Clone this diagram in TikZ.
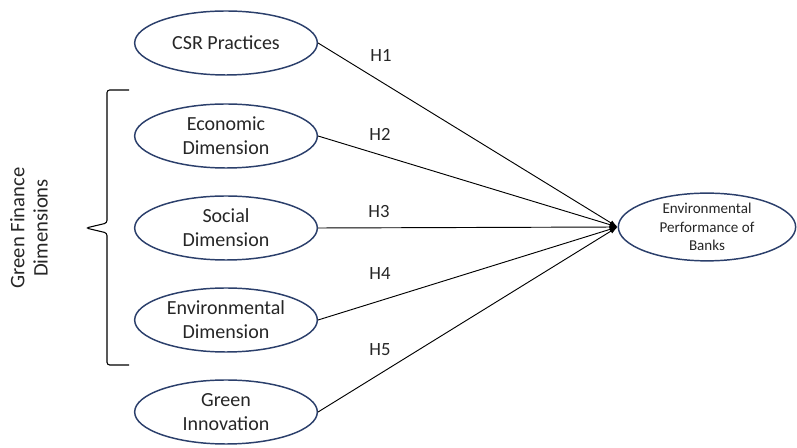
\documentclass[tikz,border=0pt]{standalone}
\usepackage{fontspec}
\setmainfont{Carlito}
\usepackage{tikz}
\usetikzlibrary{shapes.geometric,arrows.meta}
\definecolor{ovalblue}{HTML}{2B3F6B}
\tikzset{construct/.style={draw=ovalblue,ellipse,line width=1.1pt,
    minimum width=137pt,minimum height=48pt,inner sep=0pt,align=center,
    font=\fontsize{15}{18}\selectfont,text=black!85},
    outcome/.style={construct,minimum width=133pt,minimum height=49pt,
    font=\fontsize{11.3}{14}\selectfont},
    path/.style={draw,line width=0.7pt,-{Latex[length=6pt,width=4pt]}},
    hyp/.style={font=\fontsize{14}{16}\selectfont,text=black!85}}

\begin{document}
\begin{tikzpicture}[x=0.75pt,y=-0.75pt]
            \useasboundingbox (0,0) rectangle (797,448);
            \node[construct] (csr) at (226,43) {CSR Practices};
            \node[construct] (eco) at (226,136) {Economic\\Dimension};
            \node[construct] (soc) at (226,228) {Social\\Dimension};
            \node[construct] (env) at (226,320) {Environmental\\Dimension};
            \node[construct] (gi) at (226,412) {Green\\Innovation};
            \node[outcome] (perf) at (707,227) {Environmental\\Performance of\\Banks};
            \draw[path] (csr.east) -- (perf.west);
            \draw[path] (eco.east) -- (perf.west);
            \draw[path] (soc.east) -- (perf.west);
            \draw[path] (env.east) -- (perf.west);
            \draw[path] (gi.east) -- (perf.west);
            \node[hyp] (h1) at (381,55) {H1};
            \node[hyp] (h2) at (380,134) {H2};
            \node[hyp] (h3) at (379,212) {H3};
            \node[hyp] (h4) at (380,274) {H4};
            \node[hyp] (h5) at (380,350) {H5};
            \draw[line width=0.8pt,rounded corners=2pt] (129,90) -- (107,90) -- (107,223)
            -- (86,228) -- (107,233) -- (107,365) -- (129,365);
            \node[rotate=90,align=center,font=\fontsize{15.5}{17.5}\selectfont,text=black!85]
            (gfd) at (29,228) {Green Finance\\Dimensions};
        \end{tikzpicture}
\end{document}
